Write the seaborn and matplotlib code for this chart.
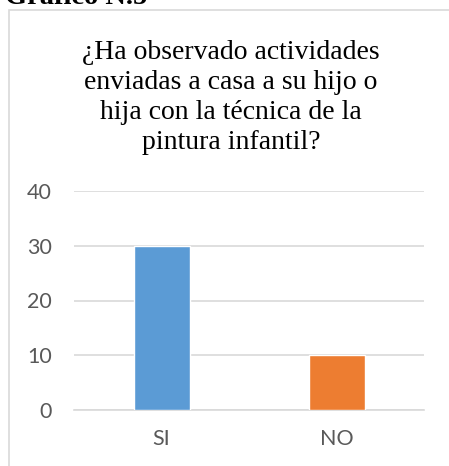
import matplotlib
matplotlib.use("Agg")
import matplotlib.pyplot as plt
from matplotlib.patches import Rectangle
import seaborn as sns
import pandas as pd

categories = ["SI", "NO"]
values = [30, 10]
colors = ["#5B9BD5", "#ED7D31"]
yticks = [0, 10, 20, 30, 40]
title = "¿Ha observado actividades\nenviadas a casa a su hijo o\nhija con la técnica de la\npintura infantil?"
header = "Gráfico N.5"

sns.set_theme(style="white")
plt.rcParams['font.family'] = ['Lato', 'DejaVu Sans']

W, H = 449, 466
fig = plt.figure(figsize=(W / 100, H / 100), dpi=100)
fig.patch.set_facecolor("white")

# chart frame
fig.patches.append(Rectangle((9 / W, -0.01), (W - 9) / W + 0.01, 1 - 9.5 / H + 0.01,
                             transform=fig.transFigure, fill=False,
                             edgecolor="#D9D9D9", linewidth=1.2, zorder=0))

# cropped header text
fig.text(5 / W, 1 - 4 / H, header, fontsize=20.5, fontweight="bold",
         family=["Liberation Serif"], ha="left", va="baseline", color="black")

ax = fig.add_axes([74 / W, 1 - 410 / H, 350 / W, 219 / H])
df = pd.DataFrame({"cat": categories, "val": values})
sns.barplot(data=df, x="cat", y="val", hue="cat", palette=colors, width=0.32,
            legend=False, ax=ax, saturation=1, zorder=3)

ax.set_ylim(0, 40)
ax.set_xlim(-0.5, 1.5)
ax.set_yticks(yticks)
ax.yaxis.grid(True, color="#D9D9D9", linewidth=1.2, zorder=0)
ax.set_axisbelow(True)
for s in ["top", "right", "left"]:
    ax.spines[s].set_visible(False)
ax.spines["bottom"].set_color("#D9D9D9")
ax.spines["bottom"].set_linewidth(1.2)
ax.tick_params(axis="both", length=0, labelsize=15.5, colors="#595959")
ax.tick_params(axis="y", pad=16)
ax.tick_params(axis="x", pad=14)
ax.set_xlabel("")
ax.set_ylabel("")

fig.text(231 / W, 1 - 40 / H, title, fontsize=20, family=["Liberation Serif"],
         ha="center", va="top", linespacing=1.27, color="black")

fig.savefig("out.png", dpi=100)
